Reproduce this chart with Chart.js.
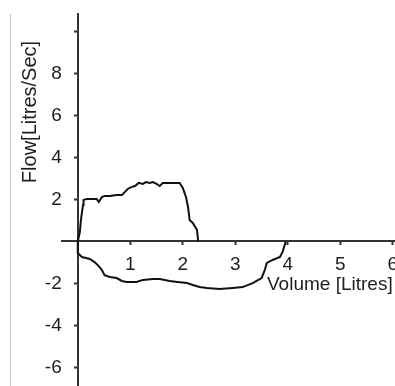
<!DOCTYPE html>
<html>
<head>
<meta charset="utf-8">
<title>Flow-Volume Loop</title>
<script src="https://cdn.jsdelivr.net/npm/chart.js@4/dist/chart.umd.min.js"></script>
<style>
  html, body { margin: 0; padding: 0; background: #fff; }
  #wrap { position: relative; width: 395px; height: 386px; overflow: hidden; }
  #frame { position: absolute; left: 10px; top: 14px; bottom: 0; border-left: 1px solid #c8c8c8; }
  canvas { position: absolute; left: 0; top: 0; }
</style>
</head>
<body>
<div id="wrap">
  <div id="frame"></div>
  <canvas id="loopChart" width="395" height="386"></canvas>
</div>
<script>
// expiration (upper half of the loop)
const expVolume = [0, 0.04, 0.06, 0.10, 0.11, 0.17, 0.23, 0.29, 0.36, 0.40, 0.46, 0.51, 0.61, 0.74, 0.84, 0.90, 0.95,
  1.03, 1.09, 1.16, 1.24, 1.30, 1.37, 1.43, 1.50, 1.56, 1.62, 1.70, 1.81, 1.94, 2.00, 2.06, 2.10, 2.13, 2.19, 2.27, 2.29, 2.29];
const expFlow = [0, 0.45, 1.02, 1.74, 1.98, 2.02, 2.02, 2.02, 2.02, 1.88, 2.12, 2.17, 2.17, 2.21, 2.21, 2.36, 2.50,
  2.60, 2.64, 2.79, 2.74, 2.83, 2.79, 2.83, 2.74, 2.64, 2.79, 2.79, 2.79, 2.79, 2.55, 2.12, 1.64, 1.02, 0.88, 0.55, 0.07, 0];

// inspiration (lower half of the loop)
const inspVolume = [0, 0, 0.08, 0.23, 0.32, 0.40, 0.46, 0.51, 0.61, 0.74, 0.84, 0.93, 1.12, 1.24, 1.43, 1.56, 1.75, 1.90,
  2.08, 2.19, 2.32, 2.46, 2.70, 2.95, 3.14, 3.33, 3.50, 3.56, 3.60, 3.71, 3.85, 3.90, 3.94, 3.96];
const inspFlow = [0, -0.55, -0.74, -0.83, -0.98, -1.17, -1.36, -1.60, -1.69, -1.74, -1.88, -1.93, -1.93, -1.83, -1.79, -1.79, -1.88, -1.93,
  -1.98, -2.07, -2.17, -2.21, -2.26, -2.21, -2.17, -1.98, -1.74, -1.36, -1.02, -0.88, -0.74, -0.50, -0.17, 0];

const xTicks = [1, 2, 3, 4, 5, 6];
const yTicks = [-6, -4, -2, 2, 4, 6, 8, 10];
const yTickLabels = ['-6', '-4', '-2', '2', '4', '6', '8', ''];

const FONT = 'Arial, "Liberation Sans", sans-serif';
const INK = '#1e1e1e';

const toPoints = (xs, ys) => xs.map((x, i) => ({ x: x, y: ys[i] }));

// axes cross at the origin and take no room of their own
const noRoom = (s, horizontal) => {
  if (horizontal) s.height = 0; else s.width = 0;
  s.paddingLeft = s.paddingRight = s.paddingTop = s.paddingBottom = 0;
};

// y tick labels and both axis titles are drawn here:
// a centred axis puts its labels right on the line otherwise
const axisText = {
  id: 'axisText',
  afterDraw(chart) {
    const ctx = chart.ctx;
    const xs = chart.scales.x;
    const ys = chart.scales.y;
    const axisX = xs.getPixelForValue(0);

    ctx.save();
    ctx.fillStyle = INK;
    ctx.font = '19px ' + FONT;
    ctx.textAlign = 'right';
    ctx.textBaseline = 'middle';
    yTicks.forEach((v, i) => {
      ctx.fillText(yTickLabels[i], axisX - 16, ys.getPixelForValue(v));
    });

    ctx.textAlign = 'left';
    ctx.fillText('Volume [Litres]', 267, 285);

    ctx.font = '20px ' + FONT;
    ctx.translate(30, 112);
    ctx.rotate(-Math.PI / 2);
    ctx.textAlign = 'center';
    ctx.fillText('Flow[Litres/Sec]', 0, 0);
    ctx.restore();
  }
};

new Chart(document.getElementById('loopChart').getContext('2d'), {
  type: 'scatter',
  data: {
    datasets: [
      {
        label: 'Expiration',
        data: toPoints(expVolume, expFlow),
        showLine: true,
        borderColor: '#111',
        borderWidth: 2,
        pointRadius: 0,
        tension: 0
      },
      {
        label: 'Inspiration',
        data: toPoints(inspVolume, inspFlow),
        showLine: true,
        borderColor: '#111',
        borderWidth: 2,
        pointRadius: 0,
        tension: 0
      }
    ]
  },
  options: {
    responsive: false,
    animation: false,
    devicePixelRatio: 1,
    layout: { padding: { left: 62, top: 14, right: 0, bottom: 0 } },
    plugins: {
      legend: { display: false },
      tooltip: { enabled: false }
    },
    scales: {
      x: {
        type: 'linear',
        min: -0.3,
        max: 6.04,
        position: { y: 0 },
        afterFit: s => noRoom(s, true),
        afterBuildTicks: s => { s.ticks = xTicks.map(v => ({ value: v })); },
        border: { display: true, color: '#333', width: 2 },
        grid: { drawOnChartArea: false, drawTicks: true, tickLength: 3, tickColor: '#333', tickWidth: 2 },
        ticks: {
          color: INK,
          padding: 9,
          maxRotation: 0,
          autoSkip: false,
          font: { family: FONT, size: 19 },
          callback: v => String(v)
        }
      },
      y: {
        type: 'linear',
        min: -6.88,
        max: 10.83,
        position: { x: 0 },
        afterFit: s => noRoom(s, false),
        afterBuildTicks: s => { s.ticks = yTicks.map(v => ({ value: v })); },
        border: { display: true, color: '#333', width: 2 },
        grid: { drawOnChartArea: false, drawTicks: true, tickLength: 3, tickColor: '#333', tickWidth: 2 },
        ticks: { display: false }
      }
    }
  },
  plugins: [axisText]
});
</script>
</body>
</html>
